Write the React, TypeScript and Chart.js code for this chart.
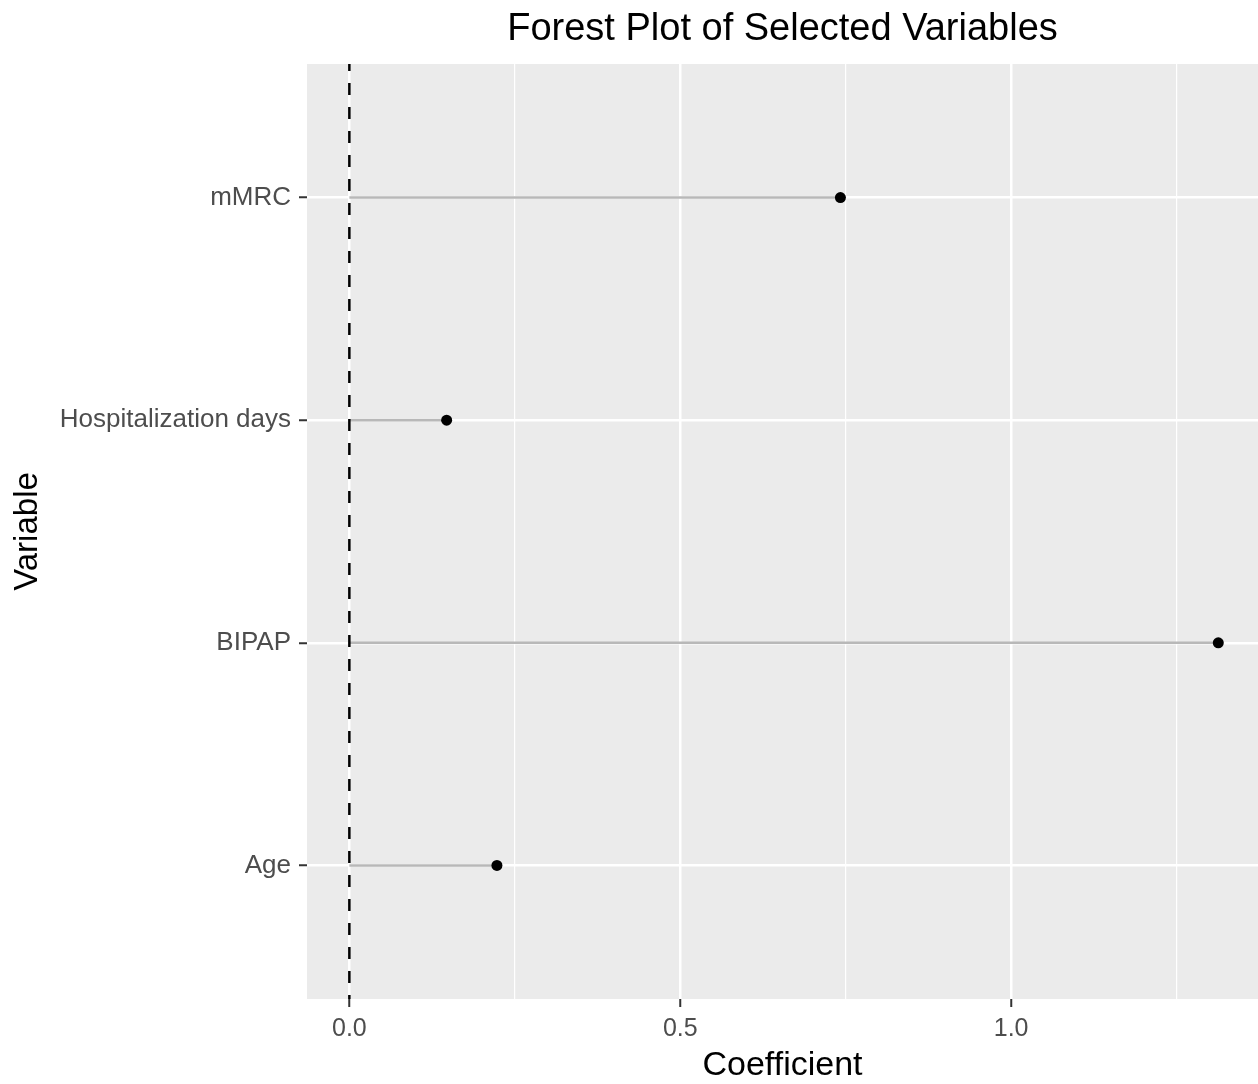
import React, { useEffect, useRef } from "react";
import { Chart, registerables } from "chart.js";

Chart.register(...registerables);

// ---- data ----
const categories: string[] = ["Age", "BIPAP", "Hospitalization days", "mMRC"]; // bottom to top
const coefficients: number[] = [0.223, 1.313, 0.147, 0.742];
const xTickValues: number[] = [0, 0.25, 0.5, 0.75, 1.0, 1.25];
const xMajorTicks: number[] = [0, 0.5, 1.0];
const xMin = -0.064;
const xMax = 1.373;
const yMin = 0.4;
const yMax = 4.6;
const referenceLineX = 0;

const titleText = "Forest Plot of Selected Variables";
const xAxisTitle = "Coefficient";
const yAxisTitle = "Variable";

const FONT = '"Liberation Sans", Arial, Helvetica, sans-serif';

const isMajor = (v: number) => xMajorTicks.some((m) => Math.abs(m - v) < 1e-9);

const panelBg = {
  id: "panelBg",
  beforeDraw(chart: any) {
    const { ctx, chartArea } = chart;
    ctx.save();
    ctx.fillStyle = "#ebebeb";
    ctx.fillRect(chartArea.left, chartArea.top, chartArea.right - chartArea.left, chartArea.bottom - chartArea.top);
    ctx.restore();
  },
};

export default function App() {
  const ref = useRef<HTMLCanvasElement | null>(null);

  useEffect(() => {
    if (!ref.current) return;

    const segmentSets = categories.map((c, i) => ({
      type: "scatter" as const,
      label: c,
      data: [
        { x: 0, y: i + 1 },
        { x: coefficients[i], y: i + 1 },
      ],
      showLine: true,
      borderColor: "#b8b8b8",
      borderWidth: 2.5,
      pointRadius: 0,
      order: 3,
    }));

    const chart = new Chart(ref.current, {
      type: "scatter",
      data: {
        datasets: [
          ...segmentSets,
          {
            label: "zero",
            data: [
              { x: referenceLineX, y: yMin },
              { x: referenceLineX, y: yMax },
            ],
            showLine: true,
            borderColor: "#000000",
            borderWidth: 2.5,
            borderDash: [12, 12],
            borderDashOffset: 8,
            pointRadius: 0,
            order: 2,
          },
          {
            label: "points",
            data: categories.map((c, i) => ({ x: coefficients[i], y: i + 1 })),
            backgroundColor: "#000000",
            borderColor: "#000000",
            borderWidth: 0,
            pointRadius: 5.5,
            order: 1,
          },
        ] as any,
      },
      options: {
        responsive: false,
        animation: false,
        events: [],
        layout: { padding: 0, autoPadding: false },
        plugins: {
          legend: { display: false },
          tooltip: { enabled: false },
          title: {
            display: true,
            text: titleText,
            fullSize: false,
            color: "#000000",
            font: { family: FONT, size: 38, weight: "normal", lineHeight: 1.2 },
            padding: { top: 7, bottom: 11.4 },
          },
        },
        scales: {
          x: {
            type: "linear",
            position: "bottom",
            min: xMin,
            max: xMax,
            afterBuildTicks: (axis: any) => {
              axis.ticks = xTickValues.map((v) => ({ value: v }));
            },
            afterFit: (scale: any) => {
              scale.height = 85;
            },
            border: { display: false },
            grid: {
              color: "#ffffff",
              lineWidth: (ctx: any) => (ctx.tick && isMajor(ctx.tick.value) ? 2.5 : 1.2),
              drawTicks: true,
              tickLength: 8,
              tickWidth: 2,
              tickColor: (ctx: any) => (ctx.tick && isMajor(ctx.tick.value) ? "#333333" : "rgba(0,0,0,0)"),
            },
            ticks: {
              autoSkip: false,
              maxRotation: 0,
              padding: 7,
              color: "#4d4d4d",
              font: { family: FONT, size: 25 },
              callback: (v: any) => (isMajor(Number(v)) ? Number(v).toFixed(1) : ""),
            },
            title: {
              display: true,
              text: xAxisTitle,
              color: "#000000",
              font: { family: FONT, size: 34, lineHeight: 1 },
              padding: { top: 0, bottom: 1 },
            },
          },
          y: {
            type: "linear",
            position: "left",
            min: yMin,
            max: yMax,
            afterBuildTicks: (axis: any) => {
              axis.ticks = categories.map((c, i) => ({ value: i + 1 }));
            },
            afterFit: (scale: any) => {
              scale.width = 307;
            },
            border: { display: false },
            grid: {
              color: "#ffffff",
              lineWidth: 2.5,
              drawTicks: true,
              tickLength: 8,
              tickWidth: 2,
              tickColor: "#333333",
            },
            ticks: {
              autoSkip: false,
              padding: 8,
              color: "#4d4d4d",
              font: { family: FONT, size: 26 },
              callback: (v: any) => categories[Math.round(Number(v)) - 1] ?? "",
            },
            title: {
              display: true,
              text: yAxisTitle,
              color: "#000000",
              font: { family: FONT, size: 33, lineHeight: 1 },
              padding: { top: 11, bottom: 0 },
            },
          },
        },
      } as any,
      plugins: [panelBg],
    });

    return () => chart.destroy();
  }, []);

  return (
    <div style={{ position: "fixed", left: 0, top: 0, width: 1258, height: 1084, background: "#ffffff" }}>
      <canvas ref={ref} width={1258} height={1084} style={{ display: "block" }} />
    </div>
  );
}
